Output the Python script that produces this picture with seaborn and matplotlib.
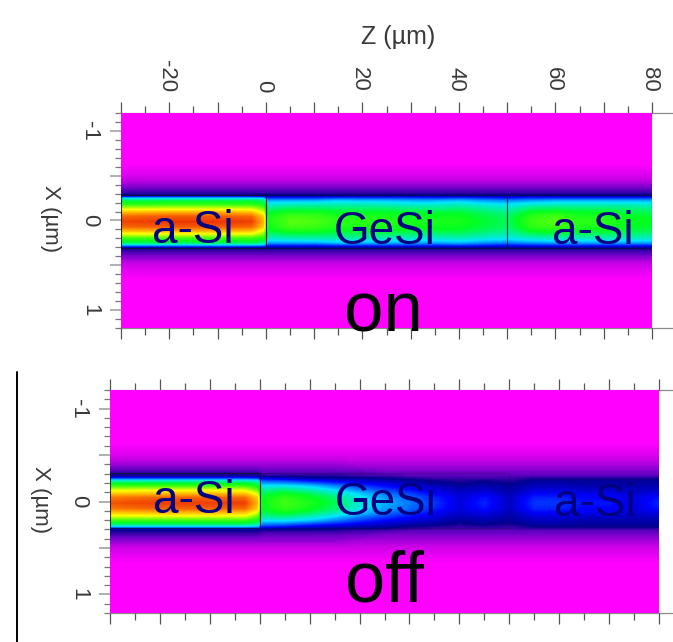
import numpy as np
import pandas as pd
import seaborn as sns
import matplotlib
matplotlib.use("Agg")
import matplotlib.pyplot as plt
from matplotlib.colors import LinearSegmentedColormap
from matplotlib.lines import Line2D
from matplotlib.patches import Rectangle
from matplotlib.transforms import ScaledTranslation

sns.set_theme(style="white")
plt.rcParams['font.family'] = ['Liberation Sans', 'DejaVu Sans']

W, H = 673, 642

# Z columns (um) and distance from the guide centre (um)
z_cols = [-30, -20, -10, -3, -0.5, 0.5, 5, 10, 15, 20, 25, 30, 35, 40, 45, 49.5, 50.5, 55, 60, 65, 70, 75, 80]
dx_rows = [0, 0.06, 0.10, 0.14, 0.19, 0.24, 0.27, 0.295, 0.33, 0.40, 0.50, 0.65, 0.90, 1.30]

# Intensity (percent of colour range) in the "on" state
on_field = [
    [95, 97, 97, 96, 80, 50, 57, 56, 52, 52, 52, 50, 50, 50, 46, 44, 44, 54, 57, 52, 52, 48, 47],
    [90, 92, 92, 90, 76, 49, 55, 54, 50, 50, 50, 48, 48, 48, 45, 43, 43, 52, 55, 50, 50, 47, 46],
    [80, 82, 82, 80, 68, 46, 50, 50, 47, 47, 47, 46, 46, 46, 43, 41, 41, 48, 50, 47, 47, 45, 44],
    [68, 69, 69, 68, 60, 42, 44, 44, 43, 43, 43, 42, 41, 42, 40, 38, 38, 43, 44, 43, 43, 42, 41],
    [53, 54, 54, 53, 50, 36, 37, 38, 38, 38, 37, 36, 36, 37, 35, 34, 34, 36, 37, 37, 37, 37, 36],
    [43, 43, 43, 43, 40, 29, 29, 29, 31, 30, 30, 29, 29, 30, 28, 27, 27, 28, 29, 29, 29, 29, 29],
    [28, 28, 28, 28, 27, 21, 21, 21, 22, 22, 22, 22, 21, 22, 21, 20, 20, 21, 21, 21, 21, 21, 21],
    [13, 13, 13, 13, 13, 13, 13, 13, 13, 13, 13, 13, 13, 13, 13, 13, 13, 13, 13, 13, 13, 13, 13],
    [11, 11, 11, 11, 11, 11, 11, 11, 11, 11, 11, 11, 11, 11, 11, 11, 11, 11, 11, 11, 11, 11, 11],
    [8, 8, 8, 8, 8, 8, 8, 8, 8, 8, 8, 8, 8, 8, 8, 8, 8, 8, 8, 8, 8, 8, 8],
    [4, 4, 4, 4, 4, 4, 4, 4, 4, 4, 4, 4, 4, 4, 4, 4, 4, 4, 4, 4, 4, 4, 4],
    [0, 0, 0, 0, 0, 0, 0, 0, 0, 0, 0, 0, 0, 0, 0, 0, 0, 0, 0, 0, 0, 0, 0],
    [0, 0, 0, 0, 0, 0, 0, 0, 0, 0, 0, 0, 0, 0, 0, 0, 0, 0, 0, 0, 0, 0, 0],
    [0, 0, 0, 0, 0, 0, 0, 0, 0, 0, 0, 0, 0, 0, 0, 0, 0, 0, 0, 0, 0, 0, 0],
]

# Intensity (percent of colour range) in the "off" state
off_field = [
    [93, 96, 96, 96, 80, 48, 55, 50, 44, 36, 30, 27, 23, 18, 22, 17, 17, 23, 23, 21, 21, 18, 22],
    [88, 91, 91, 90, 76, 47, 53, 48, 42, 34, 29, 26, 22, 18, 21, 17, 17, 22, 22, 20, 20, 18, 21],
    [78, 80, 80, 79, 68, 44, 48, 44, 38, 32, 27, 24, 20, 17, 19, 16, 16, 20, 20, 19, 19, 17, 19],
    [68, 69, 69, 68, 58, 40, 42, 38, 33, 28, 24, 21, 18, 16, 17, 15, 15, 18, 18, 17, 17, 16, 17],
    [53, 53, 53, 53, 48, 33, 33, 31, 27, 23, 20, 18, 16, 14, 15, 14, 14, 16, 16, 15, 15, 15, 15],
    [38, 38, 38, 38, 36, 25, 24, 21, 19, 17, 16, 14, 13, 12, 13, 12, 12, 14, 14, 14, 14, 14, 14],
    [23, 23, 23, 23, 22, 18, 16, 15, 14, 14, 13, 12, 11, 11, 11, 11, 11, 12, 12, 12, 12, 12, 12],
    [13, 13, 13, 13, 13, 12, 12, 12, 12, 11, 11, 10, 10, 10, 10, 10, 10, 10, 10, 10, 10, 10, 10],
    [11, 11, 11, 11, 11, 10, 10, 10, 10, 10, 9, 9, 9, 9, 9, 9, 9, 9, 9, 9, 9, 9, 9],
    [8, 8, 8, 8, 8, 8, 8, 8, 8, 7, 7, 7, 7, 7, 7, 7, 7, 7, 7, 7, 7, 7, 7],
    [4, 4, 4, 4, 4, 4, 4, 4, 4, 4, 4, 4, 4, 4, 4, 4, 4, 4, 4, 4, 4, 4, 4],
    [0, 0, 0, 0, 0, 0, 0, 0, 0, 0, 0, 0, 0, 0, 0, 0, 0, 0, 0, 0, 0, 0, 0],
    [0, 0, 0, 0, 0, 0, 0, 0, 0, 0, 0, 0, 0, 0, 0, 0, 0, 0, 0, 0, 0, 0, 0],
    [0, 0, 0, 0, 0, 0, 0, 0, 0, 0, 0, 0, 0, 0, 0, 0, 0, 0, 0, 0, 0, 0, 0],
]

z_major = [-30, -20, -10, 0, 10, 20, 30, 40, 50, 60, 70, 80]
z_minor = [-25, -15, -5, 5, 15, 25, 35, 45, 55, 65, 75]
z_labelled = [-20, 0, 20, 40, 60, 80]
x_major = [-1, -0.5, 0, 0.5, 1]
x_minor = [-1.2, -1.1, -0.9, -0.8, -0.7, -0.6, -0.4, -0.3, -0.2, -0.1,
           0.1, 0.2, 0.3, 0.4, 0.6, 0.7, 0.8, 0.9, 1.1, 1.2]
x_labelled = [-1, 0, 1]

Z_LIM = (-30, 80)
X_LIM = (-1.2, 1.2)
CENTRE = 0.015

cmap = LinearSegmentedColormap.from_list("rainbow_field", [
    (0.00, "#ff00ff"), (0.05, "#c800e6"), (0.09, "#7000c8"), (0.13, "#00008c"),
    (0.20, "#0000ff"), (0.33, "#00e6ff"), (0.47, "#00ff20"), (0.55, "#40ff10"),
    (0.70, "#ffff00"), (0.85, "#ff9000"), (1.00, "#e82000"),
])
INK = "#3a3a3a"


def resample(field, nz, nx):
    """Resample the read table onto the drawing grid, mirrored about the centre."""
    arr = np.array(field, dtype=float)
    zs = np.linspace(*Z_LIM, nz, endpoint=False) + (Z_LIM[1] - Z_LIM[0]) / nz / 2
    xs = np.linspace(*X_LIM, nx, endpoint=False) + (X_LIM[1] - X_LIM[0]) / nx / 2
    by_z = np.array([np.interp(zs, z_cols, row) for row in arr])
    out = np.array([np.interp(np.abs(xs - CENTRE), dx_rows, by_z[:, j]) for j in range(nz)]).T
    return pd.DataFrame(out, index=xs, columns=zs)


def axes_at(fig, left, right, top, bottom):
    return fig.add_axes([left / W, 1 - bottom / H, (right - left) / W, (bottom - top) / H])


def px_text(fig, x, y, s, size, color, **kw):
    fig.text(x / W, 1 - y / H, s, fontsize=size, color=color, ha="center", **kw)


def panel(fig, field, box, show_z, ylab_pad, ylabel_x):
    left, right, top, bottom = box
    ax = axes_at(fig, left, right, top, bottom)
    nz, nx = 2 * (right - left), 2 * (bottom - top)
    sns.heatmap(resample(field, nz, nx), ax=ax, cmap=cmap, vmin=0, vmax=100, cbar=False,
                xticklabels=False, yticklabels=False)
    to_z = lambda v: (np.asarray(v, dtype=float) - Z_LIM[0]) / (Z_LIM[1] - Z_LIM[0]) * nz
    to_x = lambda v: (np.asarray(v, dtype=float) - X_LIM[0]) / (X_LIM[1] - X_LIM[0]) * nx

    ax.set_xlabel("")
    ax.set_ylabel("")
    ax.set_xticks(to_z(z_major))
    ax.set_xticklabels([(str(v) if v in z_labelled else "") for v in z_major],
                       rotation=-90, fontsize=16, color=INK)
    ax.set_xticks(to_z(z_minor), minor=True)
    ax.set_yticks(to_x(x_major))
    ax.set_yticklabels([(str(v) if v in x_labelled else "") for v in x_major],
                       rotation=-90, fontsize=16, color=INK, va="center")
    ax.set_yticks(to_x(x_minor), minor=True)
    ax.tick_params(axis="x", which="major", top=True, bottom=True, labeltop=show_z, labelbottom=False,
                   length=8, width=0.9, color="#555555", pad=7)
    ax.tick_params(axis="x", which="minor", top=True, bottom=True, length=5, width=0.9, color="#555555")
    ax.tick_params(axis="y", which="major", left=True, right=False, length=8, width=1.1,
                   color="#9a9a9a", pad=ylab_pad)
    ax.tick_params(axis="y", which="minor", left=True, right=False, length=4, width=0.9, color="#777777")
    for lab in ax.get_xticklabels():
        lab.set_transform(lab.get_transform() + ScaledTranslation(-2.5 / 100, 0, fig.dpi_scale_trans))
    for s in ax.spines.values():
        s.set_visible(False)

    for y in (top, bottom):
        fig.add_artist(Line2D([left / W, 1], [1 - y / H, 1 - y / H], color="#8a8a8a", lw=0.9,
                              transform=fig.transFigure, zorder=0))
    px_text(fig, ylabel_x, (top + bottom) / 2 - 2, "X (µm)", 16, INK, rotation=-90, va="center")
    return ax, to_z, to_x


fig = plt.figure(figsize=(W / 100, H / 100), dpi=100)
fig.patch.set_facecolor("white")

# Upper panel: on
ax1, zf, xf = panel(fig, on_field, (121, 652, 113, 328), True, 7, 51)
for a, b, alpha in [(-30, 0, 0.85), (0, 50, 0.55), (50, 80, 0.55)]:
    ax1.add_patch(Rectangle((zf(a), xf(-0.285)), zf(b) - zf(a), xf(0.31) - xf(-0.285),
                            fill=False, ec="#101030", lw=0.8, alpha=alpha))

# Lower panel: off
ax2, zf2, xf2 = panel(fig, off_field, (110, 659, 390, 613), False, 7, 40)
for a, b, alpha in [(-30, 0, 0.85), (0, 50, 0.25)]:
    ax2.add_patch(Rectangle((zf2(a), xf2(-0.31)), zf2(b) - zf2(a), xf2(0.29) - xf2(-0.31),
                            fill=False, ec="#101030", lw=0.8, alpha=alpha))

NAVY = "#000080"
px_text(fig, 398, 44, "Z (µm)", 18, INK, va="baseline")
px_text(fig, 193, 243, "a-Si", 33, NAVY, va="baseline")
px_text(fig, 384.5, 244, "GeSi", 33, NAVY, va="baseline")
px_text(fig, 593, 244, "a-Si", 33, NAVY, va="baseline")
px_text(fig, 383, 332, "on", 51, "black", va="baseline")
px_text(fig, 194, 513, "a-Si", 33, NAVY, va="baseline")
px_text(fig, 386, 515, "GeSi", 33, NAVY, va="baseline")
px_text(fig, 594.5, 516, "a-Si", 33, NAVY, va="baseline")
px_text(fig, 384, 602, "off", 52, "black", va="baseline")

fig.add_artist(Line2D([16.5 / W, 16.5 / W], [0, 1 - 372 / H], color="black", lw=1.4,
                      transform=fig.transFigure))

fig.savefig("out.png", dpi=100, facecolor="white")
